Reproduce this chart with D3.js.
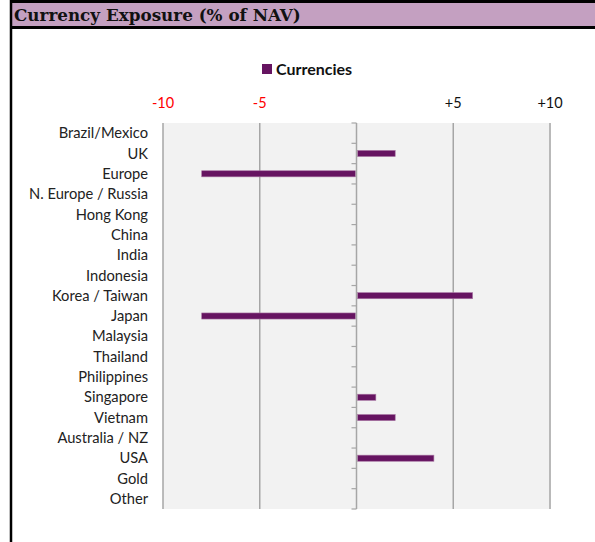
<!DOCTYPE html>
<html>
<head>
<meta charset="utf-8">
<script src="https://cdn.jsdelivr.net/npm/d3@7"></script>
<style>
  html, body { margin: 0; padding: 0; background: #fff; }
  svg { display: block; }
</style>
</head>
<body>
<div id="chart"></div>
<script>
const categories = ["Brazil/Mexico", "UK", "Europe", "N. Europe / Russia", "Hong Kong", "China", "India",
  "Indonesia", "Korea / Taiwan", "Japan", "Malaysia", "Thailand", "Philippines", "Singapore",
  "Vietnam", "Australia / NZ", "USA", "Gold", "Other"];
const exposure = [0, 2, -8, 0, 0, 0, 0, 0, 6, -8, 0, 0, 0, 1, 2, 0, 4, 0, 0];
const tickValues = [-10, -5, 0, 5, 10];
const tickLabels = ["-10", "-5", "", "+5", "+10"];
const seriesName = "Currencies";

(function () {
const W = 595, H = 542;
const svg = d3.select("#chart").append("svg").attr("width", W).attr("height", H);

// Title band
svg.append("rect").attr("x", 11).attr("y", 1).attr("width", W - 11).attr("height", 27)
  .attr("fill", "#c4a0c1");
svg.append("line").attr("x1", 10).attr("x2", W).attr("y1", 1.5).attr("y2", 1.5)
  .attr("stroke", "#000").attr("stroke-width", 3);
svg.append("line").attr("x1", 10).attr("x2", W).attr("y1", 27.5).attr("y2", 27.5)
  .attr("stroke", "#000").attr("stroke-width", 3);
svg.append("line").attr("x1", 11).attr("x2", 11).attr("y1", 0).attr("y2", H)
  .attr("stroke", "#000").attr("stroke-width", 2.5);
svg.append("text").attr("x", 14).attr("y", 21)
  .attr("font-family", "DejaVu Serif, Liberation Serif, serif")
  .attr("font-weight", "bold").attr("font-size", "16.8px").attr("fill", "#111")
  .text("Currency Exposure (% of NAV)");

// Plot area
const plotL = 163, plotR = 550, plotT = 123, plotB = 509;
const x = d3.scaleLinear().domain([-10, 10]).range([plotL, plotR]);
const y = d3.scaleBand().domain(categories).range([plotT, plotB]).paddingInner(0.7).paddingOuter(0.35);
const yb = d3.scaleBand().domain(categories).range([plotT, plotB]);

svg.append("rect").attr("x", plotL).attr("y", plotT).attr("width", plotR - plotL + 1).attr("height", plotB - plotT)
  .attr("fill", "#f2f2f2");

// Vertical gridlines
svg.append("g").selectAll("line")
  .data(tickValues.filter(d => d !== 0))
  .join("line")
  .attr("x1", d => x(d)).attr("x2", d => x(d))
  .attr("y1", plotT).attr("y2", plotB)
  .attr("stroke", "#a6a6a6").attr("stroke-width", 1.5);

// Top tick labels
svg.append("g").selectAll("text")
  .data(tickValues)
  .join("text")
  .attr("x", d => x(d)).attr("y", 108)
  .attr("text-anchor", "middle")
  .attr("font-family", "Lato, Open Sans, sans-serif").attr("font-size", "14.5px")
  .attr("fill", d => d < 0 ? "#ff0000" : "#111")
  .text((d, i) => tickLabels[i]);

// Bars
svg.append("g").selectAll("rect")
  .data(categories.map((c, i) => ({ c, v: exposure[i] })).filter(d => d.v !== 0))
  .join("rect")
  .attr("x", d => Math.min(x(0), x(d.v)) + (d.v > 0 ? 1 : 0))
  .attr("y", d => y(d.c))
  .attr("width", d => Math.abs(x(d.v) - x(0)) - 1)
  .attr("height", y.bandwidth())
  .attr("fill", "#661461")
  .attr("stroke", "#a875a3").attr("stroke-width", 0.6);

// Zero axis with ticks at category boundaries
const axis = svg.append("g").attr("transform", `translate(${x(0)},0)`);
axis.append("line").attr("x1", 0).attr("x2", 0).attr("y1", plotT).attr("y2", plotB)
  .attr("stroke", "#a6a6a6").attr("stroke-width", 1.5);
axis.selectAll(".tick")
  .data(categories.map(c => yb(c)).concat([plotB]))
  .join("line")
  .attr("class", "tick")
  .attr("x1", -5).attr("x2", 0)
  .attr("y1", d => d).attr("y2", d => d)
  .attr("stroke", "#a6a6a6").attr("stroke-width", 1.2);

// Category labels
svg.append("g").selectAll("text")
  .data(categories)
  .join("text")
  .attr("x", 148).attr("y", d => yb(d) + yb.bandwidth() / 2)
  .attr("dy", "0.35em").attr("text-anchor", "end")
  .attr("font-family", "Lato, Open Sans, sans-serif").attr("font-size", "14.7px")
  .attr("fill", "#222")
  .text(d => d);

// Legend
const legend = svg.append("g").attr("transform", "translate(262,64)");
legend.append("rect").attr("width", 10).attr("height", 10).attr("fill", "#661461");
legend.append("text").attr("x", 14).attr("y", 10.5)
  .attr("font-family", "Lato, Open Sans, sans-serif").attr("font-weight", "bold")
  .attr("font-size", "16px").attr("fill", "#111")
  .text(seriesName);
})();
</script>
</body>
</html>
